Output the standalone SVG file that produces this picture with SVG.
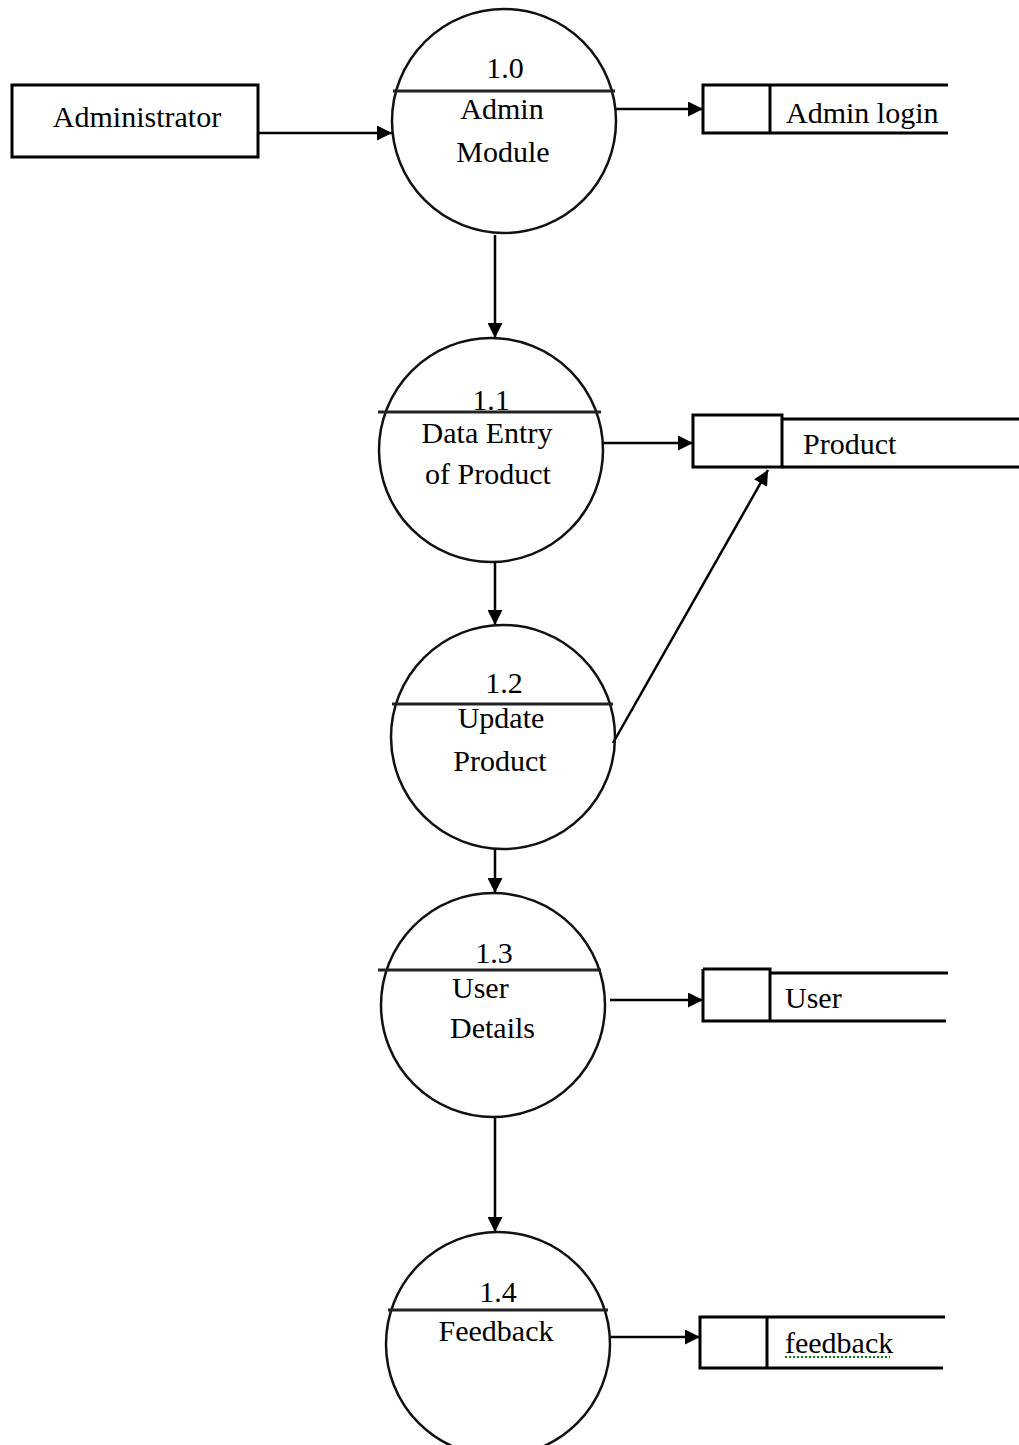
<svg xmlns="http://www.w3.org/2000/svg" width="1019" height="1445" viewBox="0 0 1019 1445">
<defs>
<style>
.t{font-family:"Liberation Serif","Times New Roman",serif;font-size:30px;fill:#000}
.c{text-anchor:middle}
.proc{fill:none;stroke:#111;stroke-width:2.5}
.div{stroke:#222;stroke-width:3}
.box{fill:none;stroke:#000;stroke-width:3}
.ln{fill:none;stroke:#000;stroke-width:3}
.conn{fill:none;stroke:#000;stroke-width:2.5;marker-end:url(#ah)}
</style>
<marker id="ah" viewBox="0 0 10 10" refX="10" refY="5" markerWidth="6.5" markerHeight="6" markerUnits="strokeWidth" orient="auto">
<path d="M0,0 L10,5 L0,10 z" fill="#000"/>
</marker>
</defs>
<rect width="1019" height="1445" fill="#fff"/>

<g id="connectors">
<line class="conn" x1="258" y1="133" x2="392" y2="133"/>
<line class="conn" x1="616" y1="109" x2="703" y2="109"/>
<line class="conn" x1="495" y1="235" x2="495" y2="338"/>
<line class="conn" x1="603" y1="443" x2="693" y2="443"/>
<line class="conn" x1="613" y1="743" x2="768" y2="470"/>
<line class="conn" x1="495" y1="562" x2="495" y2="625"/>
<line class="conn" x1="495" y1="849" x2="495" y2="893"/>
<line class="conn" x1="610" y1="1000" x2="703" y2="1000"/>
<line class="conn" x1="495" y1="1118" x2="495" y2="1232"/>
<line class="conn" x1="610" y1="1337" x2="700" y2="1337"/>
</g>

<g id="administrator">
<rect class="box" x="12" y="85" width="246" height="72"/>
<text class="t c" x="137" y="127">Administrator</text>
</g>

<g id="p1_0">
<circle class="proc" cx="504" cy="121" r="112"/>
<line class="div" x1="393" y1="91" x2="615" y2="91"/>
<text class="t c" x="505" y="78">1.0</text>
<text class="t c" x="502" y="119">Admin</text>
<text class="t c" x="503" y="162">Module</text>
</g>

<g id="store_admin_login">
<path class="ln" d="M948,85 H703 V133 H948 M770,85 V133"/>
<text class="t" x="786" y="123">Admin login</text>
</g>

<g id="p1_1">
<circle class="proc" cx="491" cy="450" r="112"/>
<line class="div" x1="378" y1="412" x2="601" y2="412"/>
<text class="t c" x="491" y="410">1.1</text>
<text class="t c" x="487" y="443">Data Entry</text>
<text class="t c" x="488" y="484">of Product</text>
</g>

<g id="store_product">
<rect class="box" x="693" y="415" width="89" height="52"/>
<path class="ln" d="M782,419 H1019 M782,467 H1019"/>
<text class="t" x="803" y="454">Product</text>
</g>

<g id="p1_2">
<circle class="proc" cx="503" cy="737" r="112"/>
<line class="div" x1="392" y1="704" x2="613" y2="704"/>
<text class="t c" x="504" y="693">1.2</text>
<text class="t c" x="501" y="728">Update</text>
<text class="t c" x="500" y="771">Product</text>
</g>

<g id="p1_3">
<circle class="proc" cx="493" cy="1005" r="112"/>
<line class="div" x1="378" y1="970" x2="601" y2="970"/>
<text class="t c" x="494" y="963">1.3</text>
<text class="t" x="452" y="998">User</text>
<text class="t" x="450" y="1038">Details</text>
</g>

<g id="store_user">
<path class="ln" d="M703,969 H770 V1021 M703,969 V1021 H946 M770,973 H948"/>
<text class="t" x="785" y="1008">User</text>
</g>

<g id="p1_4">
<circle class="proc" cx="498" cy="1344" r="112"/>
<line class="div" x1="388" y1="1310" x2="608" y2="1310"/>
<text class="t c" x="498" y="1302">1.4</text>
<text class="t c" x="496" y="1341">Feedback</text>
</g>

<g id="store_feedback">
<path class="ln" d="M945,1317 H700 V1368 H943 M767,1317 V1368"/>
<text class="t" x="785" y="1353">feedback</text>
<line x1="785" y1="1357" x2="890" y2="1357" stroke="#0a7a0a" stroke-width="2" stroke-dasharray="2,2"/>
</g>
</svg>
